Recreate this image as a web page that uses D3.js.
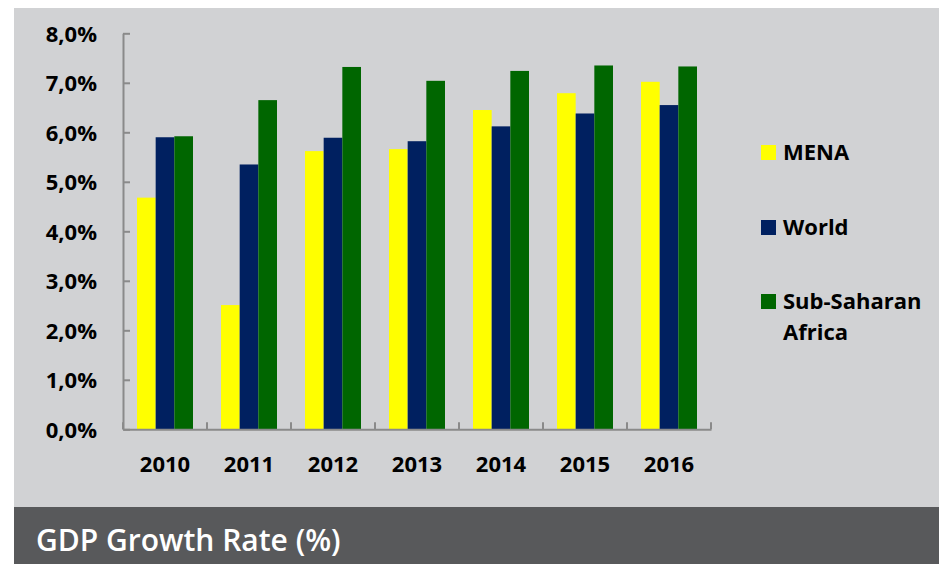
<!DOCTYPE html>
<html>
<head>
<meta charset="utf-8">
<script src="https://cdn.jsdelivr.net/npm/d3@7"></script>
<style>
  body { margin: 0; background: #ffffff; }
  svg { display: block; }
  text { font-family: "Open Sans", sans-serif; }
</style>
</head>
<body>
<div id="chart"></div>
<script>
// Data
var years = ["2010", "2011", "2012", "2013", "2014", "2015", "2016"];
var seriesNames = ["MENA", "World", "Sub-Saharan Africa"];
var mena = [4.68, 2.51, 5.62, 5.66, 6.45, 6.79, 7.02];
var world = [5.90, 5.35, 5.89, 5.82, 6.12, 6.38, 6.55];
var ssa = [5.92, 6.65, 7.32, 7.04, 7.24, 7.35, 7.33];
var yTicks = [0, 1, 2, 3, 4, 5, 6, 7, 8];
var colors = ["#ffff00", "#002060", "#006600"];
var title = "GDP Growth Rate (%)";

var W = 939, H = 564;
var margin = {top: 33.3, left: 123, right: 228, bottom: 134.7};

var svg = d3.select("#chart").append("svg")
    .attr("width", W)
    .attr("height", H);

// panel backgrounds
svg.append("rect")
    .attr("x", 14).attr("y", 8)
    .attr("width", W - 14).attr("height", 507 - 8)
    .attr("fill", "#d1d2d4");
svg.append("rect")
    .attr("x", 14).attr("y", 507)
    .attr("width", W - 14).attr("height", H - 507)
    .attr("fill", "#58595b");

svg.append("text")
    .attr("x", 36).attr("y", 551)
    .attr("fill", "#ffffff")
    .style("font-size", "30px")
    .style("font-weight", 600)
    .text(title);

// scales
var x = d3.scaleBand()
    .domain(years)
    .range([margin.left, W - margin.right])
    .paddingInner(1 / 3)
    .paddingOuter(1 / 6);

var xs = d3.scaleBand()
    .domain(seriesNames)
    .range([0, x.bandwidth()]);

var y = d3.scaleLinear()
    .domain([0, 8])
    .range([H - margin.bottom, margin.top]);

var color = d3.scaleOrdinal().domain(seriesNames).range(colors);

var locale = d3.formatLocale({decimal: ",", thousands: ".", grouping: [3], currency: ["", ""]});
var fmt = locale.format(".1f");

var rows = years.map(function(yr, i) {
  return {year: yr, values: [mena[i], world[i], ssa[i]]};
});

// bars
var groups = svg.selectAll("g.bars")
    .data(rows)
  .enter().append("g")
    .attr("class", "bars")
    .attr("transform", function(d) { return "translate(" + x(d.year) + ",0)"; });

groups.selectAll("rect")
    .data(function(d) {
      return d.values.map(function(v, j) { return {name: seriesNames[j], value: v}; });
    })
  .enter().append("rect")
    .attr("x", function(d) { return xs(d.name); })
    .attr("y", function(d) { return y(d.value); })
    .attr("width", xs.bandwidth())
    .attr("height", function(d) { return y(0) - y(d.value); })
    .attr("fill", function(d) { return color(d.name); });

// y axis
var yAxis = svg.append("g")
    .attr("transform", "translate(" + margin.left + ",0)")
    .call(d3.axisLeft(y)
      .tickValues(yTicks)
      .tickSizeInner(-7)
      .tickSizeOuter(0)
      .tickPadding(26)
      .tickFormat(function(d) { return fmt(d) + "%"; }));

// x axis: labels at centres, ticks at category boundaries
var xAxis = svg.append("g")
    .attr("transform", "translate(0," + y(0) + ")")
    .call(d3.axisBottom(x).tickSize(0).tickPadding(27));

var half = (x.step() - x.bandwidth()) / 2;
var bounds = years.map(function(yr) { return x(yr) - half; });
bounds.push(x(years[years.length - 1]) + x.bandwidth() + half);

xAxis.selectAll("line.bound")
    .data(bounds)
  .enter().append("line")
    .attr("class", "bound")
    .attr("x1", function(d) { return d; })
    .attr("x2", function(d) { return d; })
    .attr("y1", 0)
    .attr("y2", -7);

[yAxis, xAxis].forEach(function(g) {
  g.selectAll(".domain, line")
    .attr("stroke", "#8a8a8a")
    .attr("stroke-width", 2)
    .attr("fill", "none");
  g.selectAll("text")
    .attr("fill", "#000000")
    .style("font-family", "'Open Sans', sans-serif")
    .style("font-size", "22px")
    .style("font-weight", 700);
});
yAxis.selectAll("text").attr("dy", "0.35em");

// legend
var legendY = [145, 220, 294];
var legend = svg.selectAll("g.legend")
    .data(seriesNames)
  .enter().append("g")
    .attr("class", "legend")
    .attr("transform", function(d, i) { return "translate(761," + legendY[i] + ")"; });

legend.append("rect")
    .attr("width", 15)
    .attr("height", 15)
    .attr("fill", function(d) { return color(d); });

legend.append("text")
    .attr("x", 22)
    .attr("y", 15)
    .style("font-size", "22px")
    .style("font-weight", 700)
    .attr("fill", "#000000")
    .each(function(d) {
      var parts = d === "Sub-Saharan Africa" ? ["Sub-Saharan", "Africa"] : [d];
      var t = d3.select(this);
      parts.forEach(function(p, k) {
        t.append("tspan")
          .attr("x", 22)
          .attr("dy", k === 0 ? 0 : 31)
          .text(p);
      });
    });
</script>
</body>
</html>
